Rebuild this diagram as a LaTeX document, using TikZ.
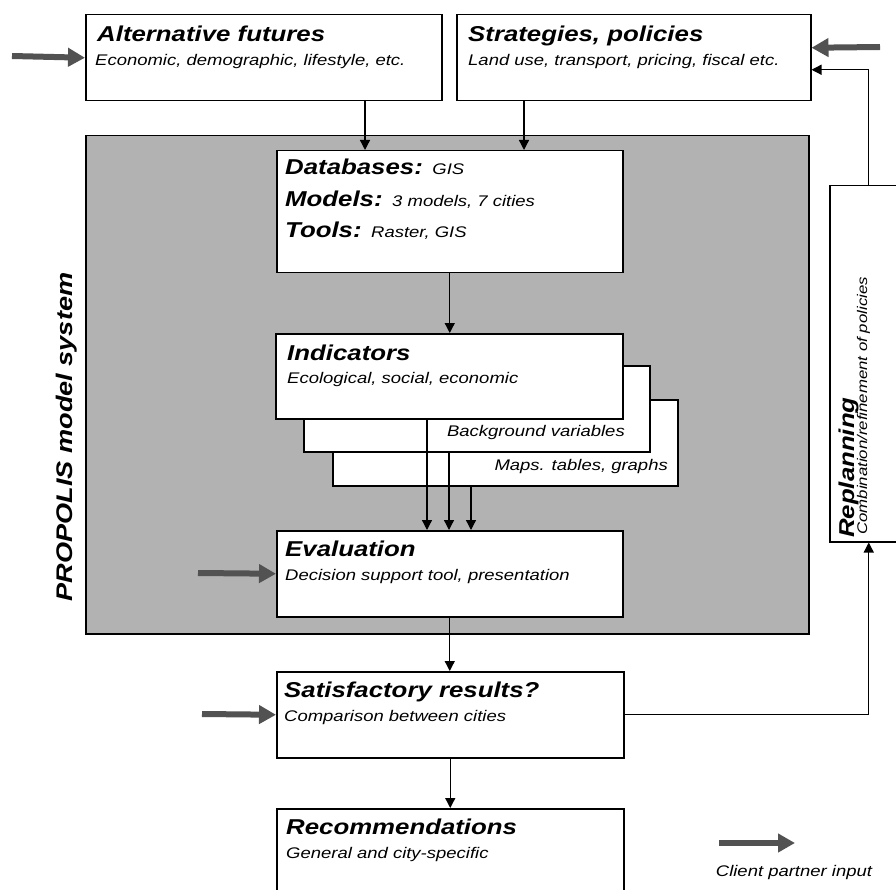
\documentclass[tikz,border=0pt]{standalone}
\usepackage{fontspec}
\setmainfont{Liberation Sans}[FakeStretch=1.2]
\usetikzlibrary{arrows.meta}

\newcommand\headfont{\fontsize{21.5}{24}\selectfont\bfseries\itshape}
\newcommand\bighead{\fontsize{22.6}{25}\selectfont\bfseries\itshape}
\newcommand\notefont{\normalfont\fontsize{15.4}{18}\selectfont\itshape}
\newcommand\smallnote{\normalfont\fontsize{14}{16}\selectfont\itshape}

\begin{document}
\begin{tikzpicture}[x=1pt,y=-1pt,
	box/.style={draw, line width=1.5pt, fill=white, anchor=north west, inner sep=0pt},
	head/.style={anchor=base west, inner sep=0pt, font=\headfont},
	note/.style={anchor=base west, inner sep=0pt, font=\notefont},
	link/.style={line width=1.3pt, -{Triangle[length=10pt,width=10pt]}},
	input/.style={line width=6pt, black!68, -{Triangle[length=17pt,width=18pt]}}]
	\useasboundingbox (0,0) rectangle (896,890);

	% model system
	\node[box, fill=black!30, minimum width=723pt, minimum height=498pt] (sys) at (85,135) {};
	\node[rotate=90, anchor=base, inner sep=0pt, font=\bighead] (sysname) at (72,437) {PROPOLIS model system};

	% inputs on top
	\node[box, minimum width=356pt, minimum height=86pt] (alt) at (85,14) {};
	\node[head] (altT) at (97,42) {Alternative futures};
	\node[note] (altS) at (95,66) {Economic, demographic, lifestyle, etc.};

	\node[box, minimum width=354pt, minimum height=86pt] (strat) at (456,14) {};
	\node[head] (stratT) at (468,42) {Strategies, policies};
	\node[note] (stratS) at (468,66) {Land use, transport, pricing, fiscal etc.};

	% databases and models
	\node[box, minimum width=346pt, minimum height=122pt] (db) at (276,150) {};
	\node[head] (dbT) at (285,175) {Databases: {\notefont GIS}};
	\node[head] (mdT) at (285,207) {Models: {\notefont 3 models, 7 cities}};
	\node[head] (tlT) at (285,238) {Tools: {\notefont Raster, GIS}};

	% indicator stack
	\node[box, minimum width=345pt, minimum height=86pt] (maps) at (332,399) {};
	\node[note, anchor=base east] (mapsT) at (668,470) {Maps. tables, graphs};
	\node[box, minimum width=346pt, minimum height=86pt] (bg) at (303,365) {};
	\node[note, anchor=base east] (bgT) at (625,436) {Background variables};
	\node[box, minimum width=347pt, minimum height=85pt] (ind) at (275,333) {};
	\node[head] (indT) at (287,360) {Indicators};
	\node[note] (indS) at (287,383) {Ecological, social, economic};

	\node[box, minimum width=346pt, minimum height=86pt] (eval) at (276,530) {};
	\node[head] (evalT) at (285,556) {Evaluation};
	\node[note] (evalS) at (285,580) {Decision support tool, presentation};

	% outside the system
	\node[box, minimum width=347pt, minimum height=86pt] (sat) at (276,671) {};
	\node[head] (satT) at (284,697) {Satisfactory results?};
	\node[note] (satS) at (284,721) {Comparison between cities};

	\node[box, minimum width=347pt, minimum height=90pt] (rec) at (276,808) {};
	\node[head] (recT) at (286,834) {Recommendations};
	\node[note] (recS) at (286,858) {General and city-specific};

	\node[box, minimum width=78pt, minimum height=356pt] (repl) at (829,185) {};
	\node[rotate=90, anchor=base west, inner sep=0pt, font=\headfont] (replT) at (854,538) {Replanning};
	\node[rotate=90, anchor=base west, inner sep=0pt, font=\smallnote] (replS) at (867,535) {Combination/refinement of policies};

	% flow
	\draw[link] ([xshift=280pt]alt.south west) -- ([xshift=280pt]alt.south west |- db.north);
	\draw[link] ([xshift=68pt]strat.south west) -- ([xshift=68pt]strat.south west |- db.north);
	\draw[link] (db.south) -- (db.south |- ind.north);
	\draw[link] ([xshift=152pt]ind.south west) -- ([xshift=152pt]ind.south west |- eval.north);
	\draw[link] ([xshift=146pt]bg.south west) -- ([xshift=146pt]bg.south west |- eval.north);
	\draw[link] ([xshift=139pt]maps.south west) -- ([xshift=139pt]maps.south west |- eval.north);
	\draw[link] (eval.south) -- (eval.south |- sat.north);
	\draw[link] (sat.south) -- (sat.south |- rec.north);
	\draw[link] (sat.east) -| (repl.south);
	\draw[link] (repl.north) |- ([yshift=-12pt]strat.east);

	% client partner input
	\coordinate (inAlt) at (12,56);
	\coordinate (inStrat) at (880,47);
	\coordinate (inEval) at (198,573);
	\coordinate (inSat) at (202,714);
	\draw[input] (inAlt) -- (alt.west);
	\draw[input] (inStrat) -- ([yshift=10pt]strat.east);
	\draw[input] (inEval) -- (eval.west);
	\draw[input] (inSat) -- (sat.west);

	% key
	\coordinate (keyA) at (719,843);
	\coordinate (keyB) at (795,843);
	\draw[input] (keyA) -- (keyB);
	\node[note, anchor=base] (keyT) at (794,876) {Client partner input};
\end{tikzpicture}
\end{document}
